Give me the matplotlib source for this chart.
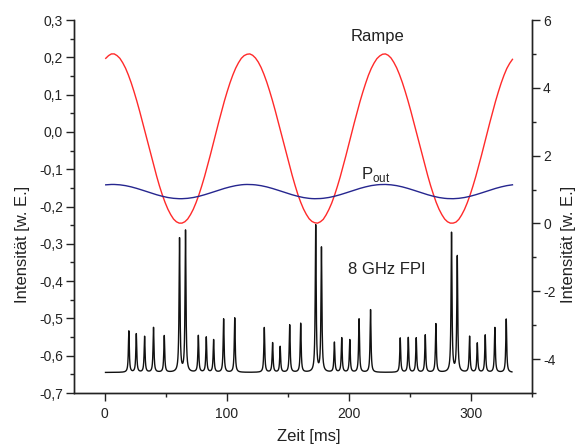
import numpy as np
import matplotlib
matplotlib.use("Agg")
import matplotlib.pyplot as plt
from matplotlib.ticker import MultipleLocator, FuncFormatter

plt.rcParams['font.family'] = ['Liberation Sans', 'DejaVu Sans']
plt.rcParams['axes.unicode_minus'] = False

# ---- data ----
# Ramp (right axis), sampled every ~2.3 ms from 1 ms to 334 ms
ramp_t_start, ramp_t_end = 1.0, 334.0
ramp_values = [
    4.87, 4.95, 5.00, 5.00, 4.95, 4.87, 4.74, 4.58, 4.38, 4.15, 3.89, 3.61,
    3.31, 2.99, 2.67, 2.34, 2.02, 1.70, 1.40, 1.11, 0.85, 0.62, 0.42, 0.26,
    0.13, 0.05, 0.01, 0.01, 0.05, 0.13, 0.26, 0.42, 0.62, 0.85, 1.11, 1.39,
    1.70, 2.01, 2.34, 2.66, 2.99, 3.30, 3.61, 3.89, 4.15, 4.38, 4.58, 4.74,
    4.87, 4.95, 4.99, 5.00, 4.96, 4.88, 4.76, 4.60, 4.40, 4.17, 3.91, 3.63,
    3.33, 3.01, 2.69, 2.36, 2.04, 1.72, 1.42, 1.13, 0.86, 0.63, 0.43, 0.27,
    0.14, 0.06, 0.02, 0.01, 0.05, 0.12, 0.25, 0.41, 0.60, 0.83, 1.09, 1.37,
    1.68, 1.99, 2.32, 2.64, 2.97, 3.28, 3.59, 3.87, 4.13, 4.37, 4.57, 4.73,
    4.86, 4.94, 4.99, 5.00, 4.96, 4.88, 4.75, 4.59, 4.39, 4.16, 3.90, 3.62,
    3.32, 3.00, 2.68, 2.35, 2.03, 1.71, 1.41, 1.12, 0.86, 0.62, 0.42, 0.26,
    0.13, 0.05, 0.01, 0.01, 0.04, 0.12, 0.25, 0.41, 0.61, 0.84, 1.10, 1.38,
    1.69, 2.00, 2.33, 2.65, 2.98, 3.29, 3.60, 3.88, 4.14, 4.37, 4.57, 4.72,
    4.84]
# P_out (right axis), same sampling
pout_values = [
    1.139, 1.146, 1.150, 1.150, 1.146, 1.139, 1.128, 1.115, 1.098, 1.079, 1.057, 1.033,
    1.008, 0.981, 0.954, 0.926, 0.899, 0.873, 0.847, 0.823, 0.802, 0.782, 0.765, 0.752,
    0.741, 0.734, 0.730, 0.730, 0.734, 0.741, 0.752, 0.765, 0.782, 0.801, 0.823, 0.847,
    0.872, 0.899, 0.926, 0.954, 0.981, 1.007, 1.033, 1.057, 1.078, 1.098, 1.115, 1.128,
    1.140, 1.147, 1.150, 1.149, 1.145, 1.138, 1.127, 1.114, 1.097, 1.078, 1.056, 1.032,
    1.007, 0.980, 0.953, 0.925, 0.898, 0.872, 0.846, 0.822, 0.801, 0.781, 0.764, 0.751,
    0.740, 0.733, 0.730, 0.731, 0.735, 0.742, 0.753, 0.766, 0.783, 0.802, 0.824, 0.848,
    0.873, 0.900, 0.927, 0.955, 0.982, 1.008, 1.034, 1.058, 1.079, 1.099, 1.116, 1.129,
    1.139, 1.146, 1.149, 1.150, 1.146, 1.139, 1.128, 1.115, 1.098, 1.079, 1.057, 1.033,
    1.008, 0.981, 0.954, 0.926, 0.899, 0.873, 0.847, 0.823, 0.802, 0.782, 0.765, 0.752,
    0.741, 0.734, 0.731, 0.730, 0.734, 0.741, 0.752, 0.765, 0.782, 0.801, 0.823, 0.847,
    0.872, 0.899, 0.926, 0.954, 0.981, 1.007, 1.033, 1.057, 1.078, 1.098, 1.115, 1.128,
    1.140]

# FPI transmission peaks (left axis): positions [ms] and peak values
fpi_baseline = -0.645
fpi_t_start, fpi_t_end = 0.8, 333.6
peak_pos = [19.9, 26.0, 32.8, 40.1, 48.9, 61.4, 66.3, 76.8, 83.3, 89.3, 97.5, 106.6,
            130.8, 137.6, 143.8, 151.6, 160.6, 172.9, 177.6, 188.2, 194.2, 200.8, 208.4, 217.8,
            242.1, 248.7, 255.2, 262.6, 271.3, 284.1, 288.8, 298.9, 305.2, 311.7, 319.6, 328.9]
peak_val = [-0.534, -0.542, -0.549, -0.525, -0.547, -0.287, -0.266, -0.547, -0.551, -0.558, -0.502, -0.499,
            -0.525, -0.566, -0.576, -0.518, -0.514, -0.252, -0.312, -0.565, -0.553, -0.558, -0.502, -0.477,
            -0.553, -0.552, -0.553, -0.545, -0.515, -0.272, -0.335, -0.549, -0.567, -0.545, -0.525, -0.502]

# ---- build curves ----
ramp_t = np.linspace(ramp_t_start, ramp_t_end, len(ramp_values))
t = np.union1d(np.arange(fpi_t_start, fpi_t_end, 0.05), np.array(peak_pos))
gamma = 0.45
fpi = np.full_like(t, fpi_baseline)
for p, v in zip(peak_pos, peak_val):
    fpi += (v - fpi_baseline) * gamma**2 / (gamma**2 + (t - p)**2)

# ---- figure ----
W, H = 577, 446
fig = plt.figure(figsize=(W / 100, H / 100), dpi=100)
L, R, T, B = 74, 532, 20, 393
ax = fig.add_axes([L / W, 1 - B / H, (R - L) / W, (B - T) / H])
ax2 = ax.twinx()

ax.plot(t, fpi, color='#111111', lw=1.0)
ax2.plot(ramp_t, ramp_values, color='#ff2a2a', lw=1.0)
ax2.plot(ramp_t, pout_values, color='#26268f', lw=1.0)

ax.set_xlim(-25, 350)
ax.set_ylim(-0.7, 0.3)
ax2.set_ylim(-5, 6)

txtc = '#222222'
for a in (ax, ax2):
    a.spines['top'].set_visible(False)
    for s in a.spines.values():
        s.set_linewidth(1.0)
        s.set_color('#222222')

ax.xaxis.set_major_locator(MultipleLocator(100))
ax.xaxis.set_minor_locator(MultipleLocator(50))
ax.yaxis.set_major_locator(MultipleLocator(0.1))
ax.yaxis.set_minor_locator(MultipleLocator(0.05))
ax2.yaxis.set_major_locator(MultipleLocator(2))
ax2.yaxis.set_minor_locator(MultipleLocator(1))

def left_fmt(v, pos):
    s = f"{v:.1f}"
    if s == "-0.0":
        s = "0.0"
    return s.replace('.', ',')

ax.yaxis.set_major_formatter(FuncFormatter(left_fmt))
ax2.yaxis.set_major_formatter(FuncFormatter(lambda v, p: f"{int(round(v))}"))

ax.tick_params(axis='both', which='major', direction='out', length=6, width=1.0,
               labelsize=10, labelcolor=txtc, color='#222222')
ax.tick_params(axis='both', which='minor', direction='out', length=3, width=1.0, color='#222222')
ax.tick_params(axis='y', which='major', pad=2)
ax.tick_params(axis='x', which='major', pad=4)
ax2.tick_params(axis='y', which='major', direction='out', length=6, width=1.0,
                labelsize=10, labelcolor=txtc, color='#222222', pad=2)
ax2.tick_params(axis='y', which='minor', direction='out', length=3, width=1.0, color='#222222')

# labels
fig.text(23 / W, 1 - 244 / H, 'Intensität [w. E.]', rotation=90, ha='center', va='center',
         fontsize=12, color=txtc)
fig.text(568 / W, 1 - 244 / H, 'Intensität [w. E.]', rotation=90, ha='center', va='center',
         fontsize=12, color=txtc)
fig.text(309 / W, 1 - 437 / H, 'Zeit [ms]', ha='center', va='center', fontsize=12, color=txtc)

fig.text(377 / W, 1 - 36 / H, 'Rampe', ha='center', va='center', fontsize=12, color=txtc)
fig.text(376 / W, 1 - 174 / H, r'P$_{\mathregular{out}}$', ha='center', va='center', fontsize=12, color=txtc)
fig.text(387 / W, 1 - 270 / H, '8 GHz FPI', ha='center', va='center', fontsize=12, color=txtc)

fig.savefig('out.png', dpi=100)
